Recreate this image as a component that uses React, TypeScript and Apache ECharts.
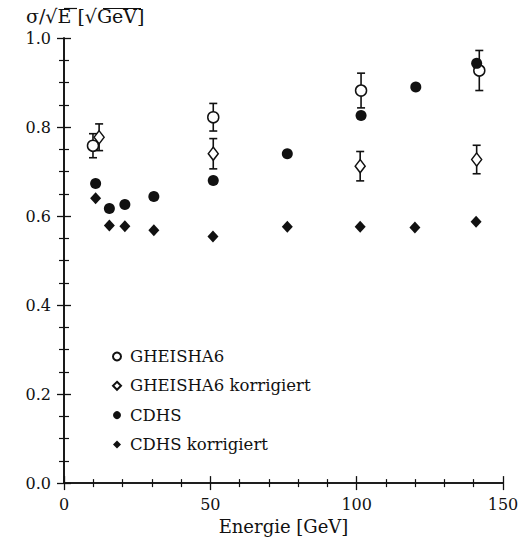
import React, { useEffect, useRef } from "react";
import * as echarts from "echarts";

const yTickLabels = ["0.0", "0.2", "0.4", "0.6", "0.8", "1.0"];

const gheishaE = [9.9, 51.0, 101.5, 141.9];
const gheishaV = [0.758, 0.822, 0.882, 0.927];
const gheishaErr = [0.027, 0.031, 0.039, 0.045];

const gheishaKorrE = [12.0, 51.0, 101.2, 141.0];
const gheishaKorrV = [0.777, 0.74, 0.712, 0.727];
const gheishaKorrErr = [0.03, 0.034, 0.033, 0.032];

const cdhsE = [10.8, 15.5, 20.8, 30.7, 51.0, 76.3, 101.5, 120.2, 141.0];
const cdhsV = [0.673, 0.617, 0.626, 0.644, 0.68, 0.74, 0.826, 0.89, 0.943];

const cdhsKorrE = [10.8, 15.5, 20.8, 30.7, 50.9, 76.3, 101.2, 119.9, 140.8];
const cdhsKorrV = [0.64, 0.579, 0.577, 0.568, 0.554, 0.576, 0.576, 0.574, 0.587];

const FONT = "DejaVu Serif";

function errData(e: number[], v: number[], err: number[]) {
  return e.map((x, i) => [x, v[i] - err[i], v[i] + err[i]]);
}

function errSeries(e: number[], v: number[], err: number[]) {
  return {
    type: "custom",
    silent: true,
    z: 1,
    data: errData(e, v, err),
    encode: { x: 0, y: [1, 2] },
    renderItem: (params: any, api: any) => {
      const x = api.value(0);
      const lo = api.coord([x, api.value(1)]);
      const hi = api.coord([x, api.value(2)]);
      const w = 4;
      const st = { stroke: "#111", lineWidth: 1.6 };
      return {
        type: "group",
        children: [
          { type: "line", shape: { x1: lo[0], y1: lo[1], x2: hi[0], y2: hi[1] }, style: st },
          { type: "line", shape: { x1: lo[0] - w, y1: lo[1], x2: lo[0] + w, y2: lo[1] }, style: st },
          { type: "line", shape: { x1: hi[0] - w, y1: hi[1], x2: hi[0] + w, y2: hi[1] }, style: st },
        ],
      };
    },
  };
}

export default function App() {
  const ref = useRef<HTMLDivElement>(null);
  useEffect(() => {
    if (!ref.current) return;
    const chart = echarts.init(ref.current, null, { renderer: "svg" });
    const axisLine = { show: true, lineStyle: { color: "#111", width: 1.6 } };
    const xBase = {
      type: "value",
      min: 0,
      max: 150,
      interval: 50,
      splitLine: { show: false },
      axisLine,
      axisTick: { show: true, inside: true, length: 7, lineStyle: { color: "#111", width: 1.3 } },
      minorTick: { show: true, splitNumber: 5, length: 4, lineStyle: { color: "#111", width: 1.2 } },
    };
    const yBase = {
      type: "value",
      min: 0,
      max: 1,
      interval: 0.2,
      splitLine: { show: false },
      axisLine,
      axisTick: { show: true, inside: true, length: 7, lineStyle: { color: "#111", width: 1.3 } },
      minorTick: { show: true, splitNumber: 4, length: 5, lineStyle: { color: "#111", width: 1.2 } },
    };
    chart.setOption({
      animation: false,
      backgroundColor: "#fff",
      grid: { left: 64, right: 28, top: 38, bottom: 55 },
      xAxis: [
        {
          ...xBase,
          position: "bottom",
          axisLabel: { fontFamily: FONT, fontSize: 16, color: "#111", margin: 13 },
          name: "Energie [GeV]",
          nameLocation: "middle",
          nameGap: 29,
          nameTextStyle: { fontFamily: FONT, fontSize: 18, color: "#111" },
        },
        { ...xBase, position: "top", axisLabel: { show: false } },
      ],
      yAxis: [
        {
          ...yBase,
          position: "left",
          axisLabel: {
            fontFamily: FONT,
            fontSize: 16,
            color: "#111",
            margin: 13,
            formatter: (v: number) => yTickLabels[Math.round(v * 5)] ?? "",
          },
        },
        { ...yBase, position: "right", axisLabel: { show: false } },
      ],
      legend: {
        orient: "vertical",
        left: 107,
        top: 342,
        itemWidth: 8,
        itemHeight: 8,
        itemGap: 10.3,
        textStyle: {
          fontFamily: FONT,
          fontSize: 16.5,
          color: "#111",
          lineHeight: 19,
          padding: [0, 0, 0, 4],
        },
        data: ["GHEISHA6", "GHEISHA6 korrigiert", "CDHS", "CDHS korrigiert"],
      },
      graphic: [
        {
          type: "text",
          left: 26,
          top: 6,
          style: {
            text: "σ/√E [√GeV]",
            fontFamily: FONT,
            fontSize: 19,
            fill: "#111",
          },
        },
        {
          type: "line",
          shape: { x1: 64, y1: 8.5, x2: 77, y2: 8.5 },
          style: { stroke: "#111", lineWidth: 1.2 },
        },
        {
          type: "line",
          shape: { x1: 103, y1: 8.5, x2: 141, y2: 8.5 },
          style: { stroke: "#111", lineWidth: 1.2 },
        },
      ],
      series: [
        errSeries(gheishaE, gheishaV, gheishaErr),
        errSeries(gheishaKorrE, gheishaKorrV, gheishaKorrErr),
        {
          name: "GHEISHA6",
          type: "scatter",
          z: 3,
          symbol: "circle",
          symbolSize: 11,
          itemStyle: { color: "#fff", borderColor: "#111", borderWidth: 1.5, opacity: 1 },
          data: gheishaE.map((x, i) => [x, gheishaV[i]]),
        },
        {
          name: "GHEISHA6 korrigiert",
          type: "scatter",
          z: 3,
          symbol: "diamond",
          symbolSize: [10, 13],
          itemStyle: { color: "#fff", borderColor: "#111", borderWidth: 1.5, opacity: 1 },
          data: gheishaKorrE.map((x, i) => [x, gheishaKorrV[i]]),
        },
        {
          name: "CDHS",
          type: "scatter",
          z: 3,
          symbol: "circle",
          symbolSize: 11,
          itemStyle: { color: "#111", opacity: 1 },
          data: cdhsE.map((x, i) => [x, cdhsV[i]]),
        },
        {
          name: "CDHS korrigiert",
          type: "scatter",
          z: 3,
          symbol: "diamond",
          symbolSize: [11, 12],
          itemStyle: { color: "#111", opacity: 1 },
          data: cdhsKorrE.map((x, i) => [x, cdhsKorrV[i]]),
        },
      ],
    });
    return () => chart.dispose();
  }, []);
  return <div ref={ref} style={{ width: 531, height: 540, position: "absolute", left: 0, top: 0 }} />;
}
